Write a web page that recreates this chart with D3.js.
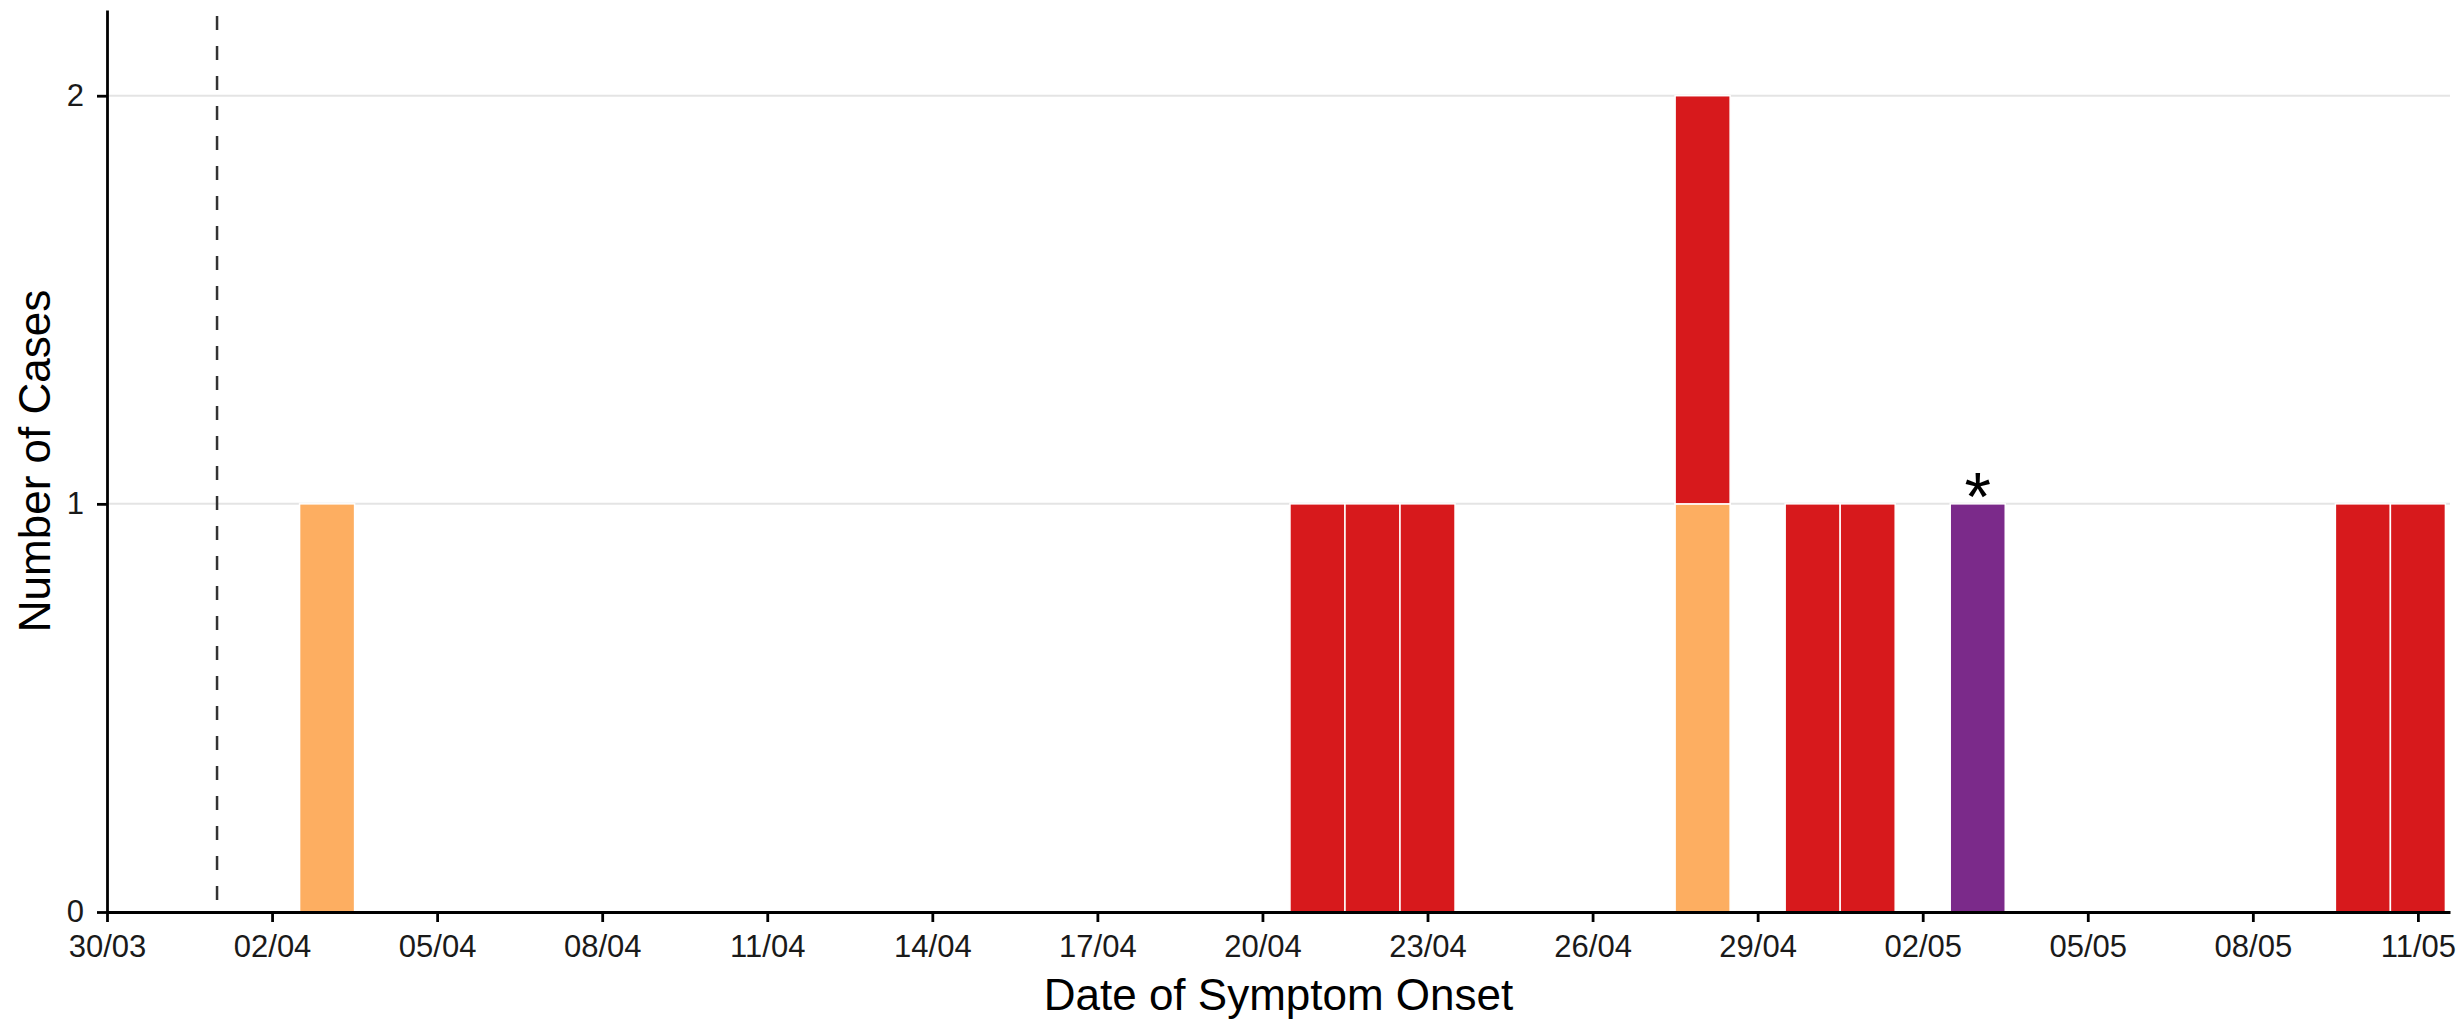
<!DOCTYPE html>
<html>
<head>
<meta charset="utf-8">
<script src="https://cdn.jsdelivr.net/npm/d3@7"></script>
<style>
  body { margin: 0; background: #fff; }
  text { font-family: "Liberation Sans", Arial, sans-serif; }
</style>
</head>
<body>
<div id="epi-curve"></div>
<script>
// onset dates and the case counts per group (stack order: bottom to top)
var onsetDates   = ["2020-04-03","2020-04-21","2020-04-22","2020-04-23","2020-04-28","2020-04-30","2020-05-01","2020-05-03","2020-05-10","2020-05-11"];
var groupA       = [1, 0, 0, 0, 1, 0, 0, 0, 0, 0];   // orange
var groupB       = [0, 1, 1, 1, 1, 1, 1, 0, 1, 1];   // red
var groupC       = [0, 0, 0, 0, 0, 0, 0, 1, 0, 0];   // purple
var groupKeys    = ["groupA", "groupB", "groupC"];
var groupColors  = ["#fdae61", "#d7191c", "#7b2a8a"];
var markedDates  = ["2020-05-03"];                    // asterisk
var markedValues = [1];
var cutoffDate   = "2020-04-01";                      // dashed line
var xStart = "2020-03-30", xEnd = "2020-05-11";
var yTicks = [0, 1, 2];

var parseDate = d3.timeParse("%Y-%m-%d");
var fmt = d3.timeFormat("%d/%m");

var W = 2458, H = 1020;
var margin = {top: 10, right: 8, bottom: 108, left: 107},
    width = W - margin.left - margin.right,
    height = H - margin.top - margin.bottom;

var svg = d3.select("#epi-curve").append("svg")
    .attr("width", W)
    .attr("height", H)
  .append("g")
    .attr("transform", "translate(" + margin.left + "," + margin.top + ")");

var rows = onsetDates.map(function(d, i) {
  return {date: parseDate(d), groupA: groupA[i], groupB: groupB[i], groupC: groupC[i]};
});

var x0 = parseDate(xStart);
var x1 = d3.timeHour.offset(parseDate(xEnd), 14.4); // a bit of room after the last day
var x = d3.scaleTime().domain([x0, x1]).range([0, width]);
var y = d3.scaleLinear().domain([0, 2.21]).range([height, 0]);

// gridlines
svg.append("g").selectAll("line").data(yTicks.filter(function(d) { return d > 0; })).enter()
  .append("line")
    .attr("x1", 0).attr("x2", width)
    .attr("y1", function(d) { return y(d); })
    .attr("y2", function(d) { return y(d); })
    .attr("stroke", "#e4e4e4")
    .attr("stroke-width", 2);

// stacked bars, one day wide, centred on the date
var stacked = d3.stack().keys(groupKeys)(rows);
var dayW = x(d3.timeDay.offset(x0, 1)) - x(x0);

svg.append("g").selectAll("g").data(stacked).enter()
  .append("g")
    .attr("fill", function(d, i) { return groupColors[i]; })
  .selectAll("rect").data(function(d) { return d.filter(function(p) { return p[1] > p[0]; }); }).enter()
  .append("rect")
    .attr("x", function(d) { return x(d.data.date) - dayW / 2; })
    .attr("width", dayW)
    .attr("y", function(d) { return y(d[1]); })
    .attr("height", function(d) { return y(d[0]) - y(d[1]); })
    .attr("stroke", "#fff")
    .attr("stroke-width", 1.5);

// asterisk over flagged bar
svg.append("g").selectAll("text").data(markedDates).enter()
  .append("text")
    .attr("x", function(d) { return x(parseDate(d)); })
    .attr("y", function(d, i) { return y(markedValues[i]) + 16; })
    .attr("text-anchor", "middle")
    .style("font-size", "68px")
    .attr("fill", "#000")
    .text("*");

// dashed reference line
svg.append("line")
  .attr("x1", x(parseDate(cutoffDate))).attr("x2", x(parseDate(cutoffDate)))
  .attr("y1", 6).attr("y2", height)
  .attr("stroke", "#333")
  .attr("stroke-width", 2.5)
  .style("stroke-dasharray", "14, 16");

// axes
var xTickVals = d3.timeDay.range(x0, d3.timeDay.offset(parseDate(xEnd), 1), 1)
  .filter(function(d, i) { return i % 3 === 0; });

var xAxis = svg.append("g")
  .attr("transform", "translate(0," + height + ")")
  .call(d3.axisBottom(x).tickValues(xTickVals).tickFormat(fmt).tickSize(10).tickPadding(13).tickSizeOuter(0));

var yAxis = svg.append("g")
  .call(d3.axisLeft(y).tickValues(yTicks).tickFormat(d3.format("d")).tickSize(10).tickPadding(13).tickSizeOuter(0));

[xAxis, yAxis].forEach(function(a) {
  a.select(".domain").attr("stroke", "#000").attr("stroke-width", 2.8);
  a.selectAll(".tick line").attr("stroke", "#000").attr("stroke-width", 2.8);
  a.selectAll(".tick text").style("font-size", "31px").attr("fill", "#1a1a1a")
    .style("font-family", "'Liberation Sans', Arial, sans-serif");
});

// axis titles
svg.append("text")
  .attr("x", width / 2)
  .attr("y", 1000)
  .attr("text-anchor", "middle")
  .style("font-size", "44px")
  .text("Date of Symptom Onset");

svg.append("text")
  .attr("transform", "translate(" + (50 - margin.left) + "," + (461 - margin.top) + ") rotate(-90)")
  .attr("text-anchor", "middle")
  .style("font-size", "44px")
  .text("Number of Cases");
</script>
</body>
</html>
